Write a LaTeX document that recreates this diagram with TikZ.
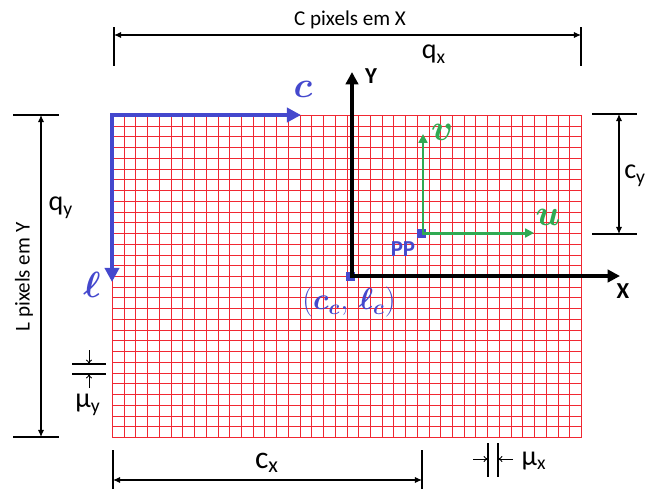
\documentclass[tikz,border=0pt]{standalone}
\usepackage{amsmath,amssymb}
\usepackage{fontspec}
\setmainfont{Carlito}
\usepackage{tikz}
\usetikzlibrary{arrows,arrows.meta,calc}
\definecolor{gridred}{RGB}{240,40,50}
\definecolor{pixblue}{RGB}{68,72,205}
\definecolor{imggreen}{RGB}{48,170,82}

\begin{document}
\begin{tikzpicture}[x=0.02cm,y=-0.02cm,>=latex',
  every node/.style={font=\fontsize{12}{14}\selectfont,inner sep=1pt},
  gridline/.style={draw=gridred,line width=0.85pt},
  tickline/.style={line width=0.6pt},
  dimline/.style={line width=0.6pt,{Latex[length=4pt,width=3.5pt]}-{Latex[length=4pt,width=3.5pt]}},
  muline/.style={line width=0.5pt,-{To[length=2.5pt,width=3.5pt]}},
  axis/.style={line width=2.3pt,line join=miter,{Triangle[length=7pt,width=7pt]}-{Triangle[length=7pt,width=7pt]}},
  blueaxis/.style={pixblue,line width=2.8pt,line join=miter,{Triangle[length=8pt,width=8pt]}-{Triangle[length=8pt,width=8pt]}},
  greenaxis/.style={imggreen,line width=1.7pt,{Triangle[length=5pt,width=5pt]}-{Triangle[length=5pt,width=5pt]}},
  biglabel/.style={font=\fontsize{16}{18}\selectfont}]
\useasboundingbox (0,0) rectangle (647,488);
% pixel grid
\draw[gridline] \foreach \i in {0,...,40} {({round(112+\i*11.725)+0.5},115) -- ({round(112+\i*11.725)+0.5},438)};
\draw[gridline] \foreach \j in {0,...,30} {(112,{round(115+\j*10.733)+0.5}) -- (582,{round(115+\j*10.733)+0.5})};
% key points
\coordinate (o) at (352,276);
\coordinate (pp) at (423,233);
\coordinate (cl) at (112,115);
\coordinate (ytip) at (352,72);
\coordinate (xtip) at (620,276);
\coordinate (ctip) at (301,115);
\coordinate (ltip) at (112,282);
\coordinate (vtip) at (423,134);
\coordinate (utip) at (534,233);
\fill[pixblue] ($(o)+(-6,-4)$) rectangle ($(o)+(3,5)$);
\fill[pixblue] ($(pp)+(-6,-4)$) rectangle ($(pp)+(3,5)$);
% systems
\draw[blueaxis] (ltip) -- (cl) -- (ctip);
\draw[axis] (ytip) -- (o) -- (xtip);
\draw[greenaxis] (vtip) -- (pp) -- (utip);
\node[pixblue,font=\fontsize{21}{23}\selectfont] (clab) at (303,89) {$\boldsymbol{c}$};
\node[pixblue,font=\fontsize{21}{23}\selectfont] (llab) at (92,285) {$\boldsymbol{\ell}$};
\node[imggreen,font=\fontsize{20}{22}\selectfont] (vlab) at (442,132) {$\boldsymbol{v}$};
\node[imggreen,font=\fontsize{20}{22}\selectfont] (ulab) at (548,217) {$\boldsymbol{u}$};
\node[pixblue,font=\bfseries\fontsize{13}{15}\selectfont] (pplab) at (403,249) {PP};
\node[pixblue,font=\fontsize{17}{19}\selectfont] (cclab) at (349,302) {$(\boldsymbol{c}_{\boldsymbol{c}},\,\boldsymbol{\ell}_{\boldsymbol{c}})$};
\node[font=\bfseries\fontsize{13}{15}\selectfont] (ylab) at (371,76) {Y};
\node[font=\bfseries\fontsize{13}{15}\selectfont] (xlab) at (623,291) {X};
% dimension C pixels
\coordinate (qxl) at (114,35);
\coordinate (qxr) at (581,35);
\draw[tickline] ($(qxl)+(0,-8)$) -- ($(qxl)+(0,31)$);
\draw[tickline] ($(qxr)+(0,-8)$) -- ($(qxr)+(0,31)$);
\draw[dimline] (qxl) -- (qxr);
\node (cpix) at (350,20) {C pixels em X};
\node[biglabel] (qx) at (434,54) {q\textsubscript{x}};
% dimension L pixels
\coordinate (qyt) at (41,115);
\coordinate (qyb) at (41,437);
\draw[tickline] ($(qyt)+(-28,0)$) -- ($(qyt)+(18,0)$);
\draw[tickline] ($(qyb)+(-28,0)$) -- ($(qyb)+(18,0)$);
\draw[dimline] (qyt) -- (qyb);
\node[rotate=90] (lpix) at (24,277) {L pixels em Y};
\node[biglabel] (qy) at (61,208) {q\textsubscript{y}};
% dimension cx
\coordinate (cxl) at (113,480);
\coordinate (cxr) at (422,480);
\draw[tickline] ($(cxl)+(0,-30)$) -- ($(cxl)+(0,15)$);
\draw[tickline] ($(cxr)+(0,-30)$) -- ($(cxr)+(0,15)$);
\draw[dimline] (cxl) -- (cxr);
\node[font=\fontsize{18}{20}\selectfont] (cx) at (267,463) {c\textsubscript{x}};
% dimension cy
\coordinate (cyt) at (619,114);
\coordinate (cyb) at (619,234);
\draw[tickline] ($(cyt)+(-27,0)$) -- ($(cyt)+(18,0)$);
\draw[tickline] ($(cyb)+(-27,0)$) -- ($(cyb)+(18,0)$);
\draw[dimline] (cyt) -- (cyb);
\node[biglabel,anchor=west,inner sep=0pt] (cy) at (624,176) {c\textsubscript{y}};
% pixel size mu y
\coordinate (muyt) at (89,364);
\coordinate (muyb) at (89,374);
\draw[tickline] ($(muyt)+(-17,0)$) -- ($(muyt)+(17,0)$);
\draw[tickline] ($(muyb)+(-17,0)$) -- ($(muyb)+(17,0)$);
\draw[muline] ($(muyt)+(0,-14)$) -- (muyt);
\draw[muline] ($(muyb)+(0,14)$) -- (muyb);
\node[biglabel] (muy) at (88,405) {μ\textsubscript{y}};
% pixel size mu x
\coordinate (muxl) at (488,459);
\coordinate (muxr) at (498,459);
\draw[tickline] ($(muxl)+(0,-16)$) -- ($(muxl)+(0,18)$);
\draw[tickline] ($(muxr)+(0,-16)$) -- ($(muxr)+(0,18)$);
\draw[muline] ($(muxl)+(-15,0)$) -- (muxl);
\draw[muline] ($(muxr)+(15,0)$) -- (muxr);
\node[biglabel] (mux) at (534,461) {μ\textsubscript{x}};
\end{tikzpicture}
\end{document}
